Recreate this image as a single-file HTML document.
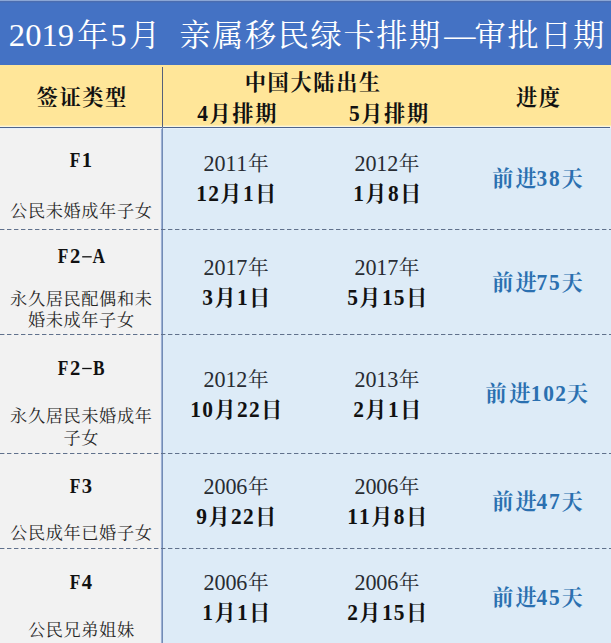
<!DOCTYPE html>
<html lang="zh-CN"><head><meta charset="utf-8"><title>2019年5月 亲属移民绿卡排期—审批日期</title>
<style>
html,body{margin:0;padding:0;background:#DDEBF7;}
body{width:611px;height:643px;overflow:hidden;position:relative;font-family:"Liberation Serif",serif;}
.bg{position:absolute;left:0;}
.top{top:0;width:611px;height:3px;background:linear-gradient(#8AA6D6 0,#8AA6D6 1px,#4C6DB0 1px,#4C6DB0 2px,#4570BC 2px);}
.title{top:3px;width:611px;height:62px;background:#4472C4;}
.head{top:65px;width:611px;height:62px;background:#FFE699;}
.left{top:128px;width:162px;height:515px;background:#F2F2F2;}
.right{top:128px;left:163px;width:448px;height:515px;background:#DDEBF7;}
svg.tx{position:absolute;left:0;top:0;display:block;}
.sr{position:absolute;left:0;top:0;width:1px;height:1px;overflow:hidden;clip:rect(0 0 0 0);clip-path:inset(50%);white-space:nowrap;border:0;padding:0;margin:-1px;}
</style></head><body>
<div class="bg top"></div><div class="bg title"></div><div class="bg head"></div><div class="bg left"></div><div class="bg right"></div>
<svg class="tx" width="611" height="643" viewBox="0 0 611 643">
<g shape-rendering="crispEdges">
<rect x="0" y="125" width="611" height="1" fill="#FEEDB4"/>
<rect x="0" y="126" width="611" height="1" fill="#FAF6DE"/>
<rect x="0" y="127" width="610" height="1" fill="#4E648D"/>
<rect x="0" y="128" width="611" height="1" fill="#E6F0FB"/>
<rect x="162" y="67" width="1" height="60" fill="#56607A"/>
<rect x="160" y="129" width="1" height="514" fill="#E8EEF8"/>
<rect x="161" y="129" width="1" height="514" fill="#9DB0D1"/>
<rect x="162" y="127" width="1" height="516" fill="#728BB6"/>
</g>
<g stroke="#60718C" stroke-width="1" stroke-dasharray="4.4 2.6" fill="none">
<path d="M0 229.5H611"/><path d="M0 334.5H611"/><path d="M0 453.5H611"/><path d="M0 548.5H611"/>
</g>
<g font-family="&quot;Liberation Serif&quot;, &quot;Noto Serif CJK SC&quot;, serif" text-anchor="start">
<text y="46" x="77.25 128.95" font-size="31.2" fill="#FFFFFF">年月</text>
<text y="46" x="179.4 212.2 245 277.8 310.6 343.4 376.2 409 444.3 474.6 507.4 540.2 573" font-size="31.2" fill="#FFFFFF">亲属移民绿卡排期—审批日期</text>
<text y="105.1" x="36.53 59.38 82.23 105.08" font-size="21.2" font-weight="bold" fill="#111111">签证类型</text>
<text y="89.5" x="244.77 267.62 290.48 313.33 336.18 359.03" font-size="21.2" font-weight="bold" fill="#111111">中国大陆出生</text>
<text y="120.9" x="209.5 232.35 255.2" font-size="21.2" font-weight="bold" fill="#111111">月排期</text>
<text y="120.9" x="361.2 384.05 406.9" font-size="21.2" font-weight="bold" fill="#111111">月排期</text>
<text y="105.1" x="515.98 538.83" font-size="21.2" font-weight="bold" fill="#111111">进度</text>
<text y="216.7" x="10.1 27.9 45.7 63.5 81.3 99.1 116.9 134.7" font-size="17.2" fill="#262626">公民未婚成年子女</text>
<text y="171.2" x="247.9" font-size="20.6" fill="#282C33">年</text>
<text y="201" x="220.32 255.07" font-size="21.2" font-weight="bold" fill="#111111">月日</text>
<text y="171.2" x="398.8" font-size="20.6" fill="#282C33">年</text>
<text y="201" x="365.27 400.02" font-size="21.2" font-weight="bold" fill="#111111">月日</text>
<text y="185.8" x="492.25 515.5 561.55" font-size="21.2" font-weight="bold" fill="#2B70B0">前进天</text>
</g>
<rect x="82.19" y="256.16" width="9.52" height="1.3" fill="#111111"/>
<g font-family="&quot;Liberation Serif&quot;, &quot;Noto Serif CJK SC&quot;, serif" text-anchor="start">
<text y="305.3" x="10.1 27.9 45.7 63.5 81.3 99.1 116.9 134.7" font-size="17.2" fill="#262626">永久居民配偶和未</text>
<text y="325.8" x="27.9 45.7 63.5 81.3 99.1 116.9" font-size="17.2" fill="#262626">婚未成年子女</text>
<text y="275.2" x="247.9" font-size="20.6" fill="#282C33">年</text>
<text y="305" x="214.38 249.12" font-size="21.2" font-weight="bold" fill="#111111">月日</text>
<text y="275.2" x="398.8" font-size="20.6" fill="#282C33">年</text>
<text y="305" x="359.32 405.97" font-size="21.2" font-weight="bold" fill="#111111">月日</text>
<text y="290.4" x="492.25 515.5 561.55" font-size="21.2" font-weight="bold" fill="#2B70B0">前进天</text>
</g>
<rect x="82.19" y="367.86" width="9.52" height="1.3" fill="#111111"/>
<g font-family="&quot;Liberation Serif&quot;, &quot;Noto Serif CJK SC&quot;, serif" text-anchor="start">
<text y="422.3" x="10.1 27.9 45.7 63.5 81.3 99.1 116.9 134.7" font-size="17.2" fill="#262626">永久居民未婚成年</text>
<text y="443.9" x="63.5 81.3" font-size="17.2" fill="#262626">子女</text>
<text y="387.3" x="247.9" font-size="20.6" fill="#282C33">年</text>
<text y="417.1" x="214.38 261.02" font-size="21.2" font-weight="bold" fill="#111111">月日</text>
<text y="387.3" x="398.8" font-size="20.6" fill="#282C33">年</text>
<text y="417.1" x="365.27 400.02" font-size="21.2" font-weight="bold" fill="#111111">月日</text>
<text y="401.3" x="485.6 509.15 566.7" font-size="21.2" font-weight="bold" fill="#2B70B0">前进天</text>
<text y="539.2" x="10.1 27.9 45.7 63.5 81.3 99.1 116.9 134.7" font-size="17.2" fill="#262626">公民成年已婚子女</text>
<text y="494" x="247.9" font-size="20.6" fill="#282C33">年</text>
<text y="523.8" x="208.42 255.07" font-size="21.2" font-weight="bold" fill="#111111">月日</text>
<text y="494" x="398.8" font-size="20.6" fill="#282C33">年</text>
<text y="523.8" x="371.22 405.97" font-size="21.2" font-weight="bold" fill="#111111">月日</text>
<text y="509.3" x="492.25 515.5 561.55" font-size="21.2" font-weight="bold" fill="#2B70B0">前进天</text>
<text y="636" x="27.9 45.7 63.5 81.3 99.1 116.9" font-size="17.2" fill="#262626">公民兄弟姐妹</text>
<text y="589.9" x="247.9" font-size="20.6" fill="#282C33">年</text>
<text y="619.7" x="214.38 249.12" font-size="21.2" font-weight="bold" fill="#111111">月日</text>
<text y="589.9" x="398.8" font-size="20.6" fill="#282C33">年</text>
<text y="619.7" x="359.32 405.97" font-size="21.2" font-weight="bold" fill="#111111">月日</text>
<text y="605.3" x="492.25 515.5 561.55" font-size="21.2" font-weight="bold" fill="#2B70B0">前进天</text>
</g>
<g font-family="&quot;Liberation Serif&quot;, serif" text-anchor="middle">
<text y="45.6" x="17 33.3 49.6 65.9 118.3" font-size="32.6" font-weight="normal" fill="#FFFFFF">20195</text>
<text transform="scale(1 1.04)" y="116.25" x="202.72" font-size="21.4" font-weight="bold" fill="#111111">4</text>
<text transform="scale(1 1.04)" y="116.25" x="354.42" font-size="21.4" font-weight="bold" fill="#111111">5</text>
<text transform="translate(75.05 167.2) scale(0.84 1)" font-size="20.6" font-weight="bold" fill="#111111">F</text>
<text transform="translate(86.95 167.2) scale(1 1)" font-size="20.6" font-weight="bold" fill="#111111">1</text>
<text transform="scale(1 1.04)" y="164.62" x="209.15 220.05 230.95 241.85" font-size="22.1" font-weight="normal" fill="#282C33">2011</text>
<text transform="scale(1 1.04)" y="193.27" x="201.65 213.55 248.3" font-size="21.4" font-weight="bold" fill="#111111">121</text>
<text transform="scale(1 1.04)" y="164.62" x="360.05 370.95 381.85 392.75" font-size="22.1" font-weight="normal" fill="#282C33">2012</text>
<text transform="scale(1 1.04)" y="193.27" x="358.5 393.25" font-size="21.4" font-weight="bold" fill="#111111">18</text>
<text transform="scale(1 1.04)" y="178.65" x="541.88 554.38" font-size="21.4" font-weight="bold" fill="#2B70B0">38</text>
<text transform="translate(63.15 263.3) scale(0.84 1)" font-size="20.6" font-weight="bold" fill="#111111">F</text>
<text transform="translate(75.05 263.3) scale(1 1)" font-size="20.6" font-weight="bold" fill="#111111">2</text>
<text transform="translate(98.85 263.3) scale(0.84 1)" font-size="20.6" font-weight="bold" fill="#111111">A</text>
<text transform="scale(1 1.04)" y="264.62" x="209.15 220.05 230.95 241.85" font-size="22.1" font-weight="normal" fill="#282C33">2017</text>
<text transform="scale(1 1.04)" y="293.27" x="207.6 242.35" font-size="21.4" font-weight="bold" fill="#111111">31</text>
<text transform="scale(1 1.04)" y="264.62" x="360.05 370.95 381.85 392.75" font-size="22.1" font-weight="normal" fill="#282C33">2017</text>
<text transform="scale(1 1.04)" y="293.27" x="352.55 387.3 399.2" font-size="21.4" font-weight="bold" fill="#111111">515</text>
<text transform="scale(1 1.04)" y="279.23" x="541.88 554.38" font-size="21.4" font-weight="bold" fill="#2B70B0">75</text>
<text transform="translate(63.15 375) scale(0.84 1)" font-size="20.6" font-weight="bold" fill="#111111">F</text>
<text transform="translate(75.05 375) scale(1 1)" font-size="20.6" font-weight="bold" fill="#111111">2</text>
<text transform="translate(98.85 375) scale(0.84 1)" font-size="20.6" font-weight="bold" fill="#111111">B</text>
<text transform="scale(1 1.04)" y="372.4" x="209.15 220.05 230.95 241.85" font-size="22.1" font-weight="normal" fill="#282C33">2012</text>
<text transform="scale(1 1.04)" y="401.06" x="195.7 207.6 242.35 254.25" font-size="21.4" font-weight="bold" fill="#111111">1022</text>
<text transform="scale(1 1.04)" y="372.4" x="360.05 370.95 381.85 392.75" font-size="22.1" font-weight="normal" fill="#282C33">2013</text>
<text transform="scale(1 1.04)" y="401.06" x="358.5 393.25" font-size="21.4" font-weight="bold" fill="#111111">21</text>
<text transform="scale(1 1.04)" y="385.87" x="536.12 548.73 560.62" font-size="21.4" font-weight="bold" fill="#2B70B0">102</text>
<text transform="translate(75.05 493.2) scale(0.84 1)" font-size="20.6" font-weight="bold" fill="#111111">F</text>
<text transform="translate(86.95 493.2) scale(1 1)" font-size="20.6" font-weight="bold" fill="#111111">3</text>
<text transform="scale(1 1.04)" y="475" x="209.15 220.05 230.95 241.85" font-size="22.1" font-weight="normal" fill="#282C33">2006</text>
<text transform="scale(1 1.04)" y="503.65" x="201.65 236.4 248.3" font-size="21.4" font-weight="bold" fill="#111111">922</text>
<text transform="scale(1 1.04)" y="475" x="360.05 370.95 381.85 392.75" font-size="22.1" font-weight="normal" fill="#282C33">2006</text>
<text transform="scale(1 1.04)" y="503.65" x="352.55 364.45 399.2" font-size="21.4" font-weight="bold" fill="#111111">118</text>
<text transform="scale(1 1.04)" y="489.71" x="541.88 554.38" font-size="21.4" font-weight="bold" fill="#2B70B0">47</text>
<text transform="translate(75.05 589) scale(0.84 1)" font-size="20.6" font-weight="bold" fill="#111111">F</text>
<text transform="translate(86.95 589) scale(1 1)" font-size="20.6" font-weight="bold" fill="#111111">4</text>
<text transform="scale(1 1.04)" y="567.21" x="209.15 220.05 230.95 241.85" font-size="22.1" font-weight="normal" fill="#282C33">2006</text>
<text transform="scale(1 1.04)" y="595.87" x="207.6 242.35" font-size="21.4" font-weight="bold" fill="#111111">11</text>
<text transform="scale(1 1.04)" y="567.21" x="360.05 370.95 381.85 392.75" font-size="22.1" font-weight="normal" fill="#282C33">2006</text>
<text transform="scale(1 1.04)" y="595.87" x="352.55 387.3 399.2" font-size="21.4" font-weight="bold" fill="#111111">215</text>
<text transform="scale(1 1.04)" y="582.02" x="541.88 554.38" font-size="21.4" font-weight="bold" fill="#2B70B0">45</text>
</g>
</svg>
<table class="sr">
<caption>2019年5月 亲属移民绿卡排期—审批日期</caption>
<thead><tr><th rowspan="2">签证类型</th><th colspan="2">中国大陆出生</th><th rowspan="2">进度</th></tr>
<tr><th>4月排期</th><th>5月排期</th></tr></thead>
<tbody>
<tr><th>F1 公民未婚成年子女</th><td>2011年12月1日</td><td>2012年1月8日</td><td>前进38天</td></tr>
<tr><th>F2-A 永久居民配偶和未婚未成年子女</th><td>2017年3月1日</td><td>2017年5月15日</td><td>前进75天</td></tr>
<tr><th>F2-B 永久居民未婚成年子女</th><td>2012年10月22日</td><td>2013年2月1日</td><td>前进102天</td></tr>
<tr><th>F3 公民成年已婚子女</th><td>2006年9月22日</td><td>2006年11月8日</td><td>前进47天</td></tr>
<tr><th>F4 公民兄弟姐妹</th><td>2006年1月1日</td><td>2006年2月15日</td><td>前进45天</td></tr>
</tbody></table>
</body></html>
